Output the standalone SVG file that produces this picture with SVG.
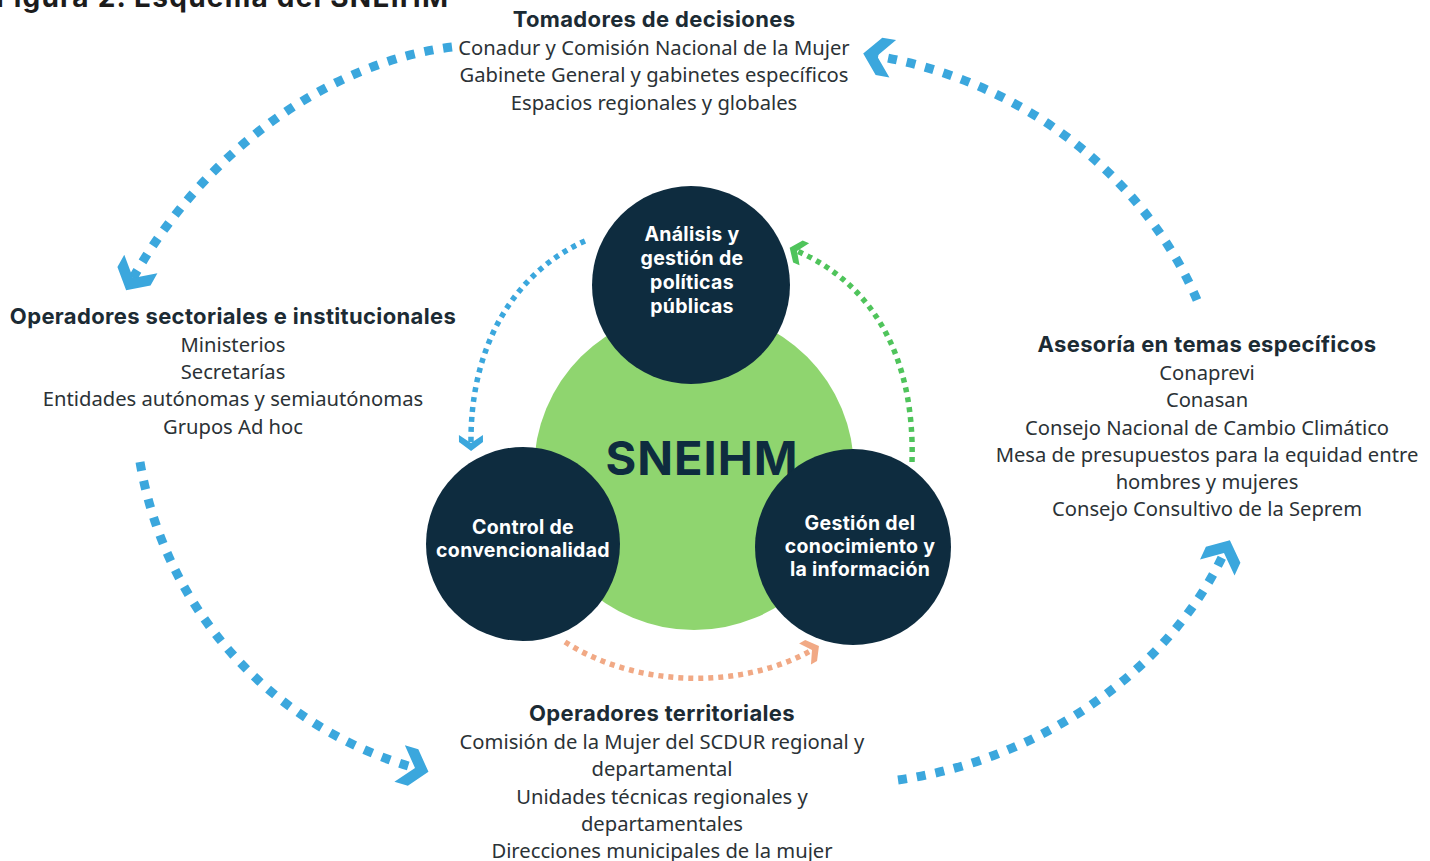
<svg xmlns="http://www.w3.org/2000/svg" width="1430" height="861" viewBox="0 0 1430 861">
<style>
.h{font-family:Inter,"Liberation Sans",sans-serif;font-weight:700;font-size:22px;letter-spacing:0.35px;fill:#1c2b34;text-anchor:middle}
.t{font-family:"Noto Sans","Liberation Sans",sans-serif;font-size:20.2px;fill:#2b3236;text-anchor:middle}
.w{font-family:Inter,"Liberation Sans",sans-serif;font-weight:700;font-size:19.5px;letter-spacing:0.3px;fill:#ffffff;text-anchor:middle}
.dark{fill:#0e2c3f}
.big{fill:none;stroke:#3ba7dd;stroke-width:9;stroke-dasharray:9 10}
.sb{fill:none;stroke:#3ba7dd;stroke-width:5.5;stroke-dasharray:5 5}
.sg{fill:none;stroke:#4fc45b;stroke-width:5.5;stroke-dasharray:5 5}
.so{fill:none;stroke:#f1a985;stroke-width:5.5;stroke-dasharray:5 5}
</style>
<defs>
<marker id="mb" markerUnits="userSpaceOnUse" viewBox="-16 -21 34 42" markerWidth="34" markerHeight="42" refX="2" refY="0" orient="auto">
<polygon points="16,0 0,-19 -14,-19 2,0 -14,19 0,19" fill="#3ba7dd"/>
</marker>
<marker id="msb" markerUnits="userSpaceOnUse" viewBox="-10 -14 22 28" markerWidth="22" markerHeight="28" refX="1" refY="0" orient="auto">
<polygon points="9,0 0,-12 -7,-12 1,0 -7,12 0,12" fill="#3ba7dd"/>
</marker>
<marker id="msg" markerUnits="userSpaceOnUse" viewBox="-10 -14 22 28" markerWidth="22" markerHeight="28" refX="1" refY="0" orient="auto">
<polygon points="9,0 0,-12 -7,-12 1,0 -7,12 0,12" fill="#4fc45b"/>
</marker>
<marker id="mso" markerUnits="userSpaceOnUse" viewBox="-10 -14 22 28" markerWidth="22" markerHeight="28" refX="1" refY="0" orient="auto">
<polygon points="9,0 0,-12 -7,-12 1,0 -7,12 0,12" fill="#f1a985"/>
</marker>
</defs>
<rect width="1430" height="861" fill="#ffffff"/>
<text x="-4" y="7" font-family="Inter,'Liberation Sans',sans-serif" font-weight="700" font-size="28" fill="#1c1c1c" textLength="452">Figura 2. Esquema del SNEIHM</text>

<g id="connectors">
<path class="big" d="M452,47 C330,62 205,150 133,278" marker-end="url(#mb)"/>
<path class="big" d="M1197,300 C1150,190 1040,85 877,56" marker-end="url(#mb)"/>
<path class="big" d="M140,462 C165,610 272,727 415,768" marker-end="url(#mb)"/>
<path class="big" d="M898,780 C1040,760 1170,670 1224,553" marker-end="url(#mb)"/>
<path class="sb" d="M585,241 C515,272 470,345 471,443" marker-end="url(#msb)"/>
<path class="sg" d="M912,462 C915,360 875,285 797,251" marker-end="url(#msg)"/>
<path class="so" d="M565,642 C640,690 745,688 812,650" marker-end="url(#mso)"/>
</g>

<g id="tomadores">
<text class="h" x="654" y="27">Tomadores de decisiones</text>
<text class="t" x="654" y="55">Conadur y Comisión Nacional de la Mujer</text>
<text class="t" x="654" y="82">Gabinete General y gabinetes específicos</text>
<text class="t" x="654" y="110">Espacios regionales y globales</text>
</g>

<g id="sectoriales">
<text class="h" x="233" y="324">Operadores sectoriales e institucionales</text>
<text class="t" x="233" y="352">Ministerios</text>
<text class="t" x="233" y="379">Secretarías</text>
<text class="t" x="233" y="406">Entidades autónomas y semiautónomas</text>
<text class="t" x="233" y="434">Grupos Ad hoc</text>
</g>

<g id="asesoria">
<text class="h" x="1207" y="352">Asesoría en temas específicos</text>
<text class="t" x="1207" y="380">Conaprevi</text>
<text class="t" x="1207" y="407">Conasan</text>
<text class="t" x="1207" y="435">Consejo Nacional de Cambio Climático</text>
<text class="t" x="1207" y="462">Mesa de presupuestos para la equidad entre</text>
<text class="t" x="1207" y="489">hombres y mujeres</text>
<text class="t" x="1207" y="516">Consejo Consultivo de la Seprem</text>
</g>

<g id="territoriales">
<text class="h" x="662" y="721">Operadores territoriales</text>
<text class="t" x="662" y="749">Comisión de la Mujer del SCDUR regional y</text>
<text class="t" x="662" y="776">departamental</text>
<text class="t" x="662" y="804">Unidades técnicas regionales y</text>
<text class="t" x="662" y="831">departamentales</text>
<text class="t" x="662" y="858">Direcciones municipales de la mujer</text>
</g>

<g id="sneihm">
<circle cx="694" cy="470" r="160" fill="#8fd56f"/>
<text x="702" y="475" font-family="Inter,'Liberation Sans',sans-serif" font-weight="700" font-size="47" letter-spacing="1" fill="#0e2c3f" text-anchor="middle">SNEIHM</text>
</g>

<g id="analisis">
<circle class="dark" cx="691" cy="285" r="99"/>
<text class="w" x="692" y="241">Análisis y</text>
<text class="w" x="692" y="265">gestión de</text>
<text class="w" x="692" y="289">políticas</text>
<text class="w" x="692" y="313">públicas</text>
</g>

<g id="control">
<circle class="dark" cx="523" cy="544" r="97"/>
<text class="w" x="523" y="534">Control de</text>
<text class="w" x="523" y="557">convencionalidad</text>
</g>

<g id="gestion">
<circle class="dark" cx="853" cy="547" r="98"/>
<text class="w" x="860" y="530">Gestión del</text>
<text class="w" x="860" y="553">conocimiento y</text>
<text class="w" x="860" y="576">la información</text>
</g>
</svg>
